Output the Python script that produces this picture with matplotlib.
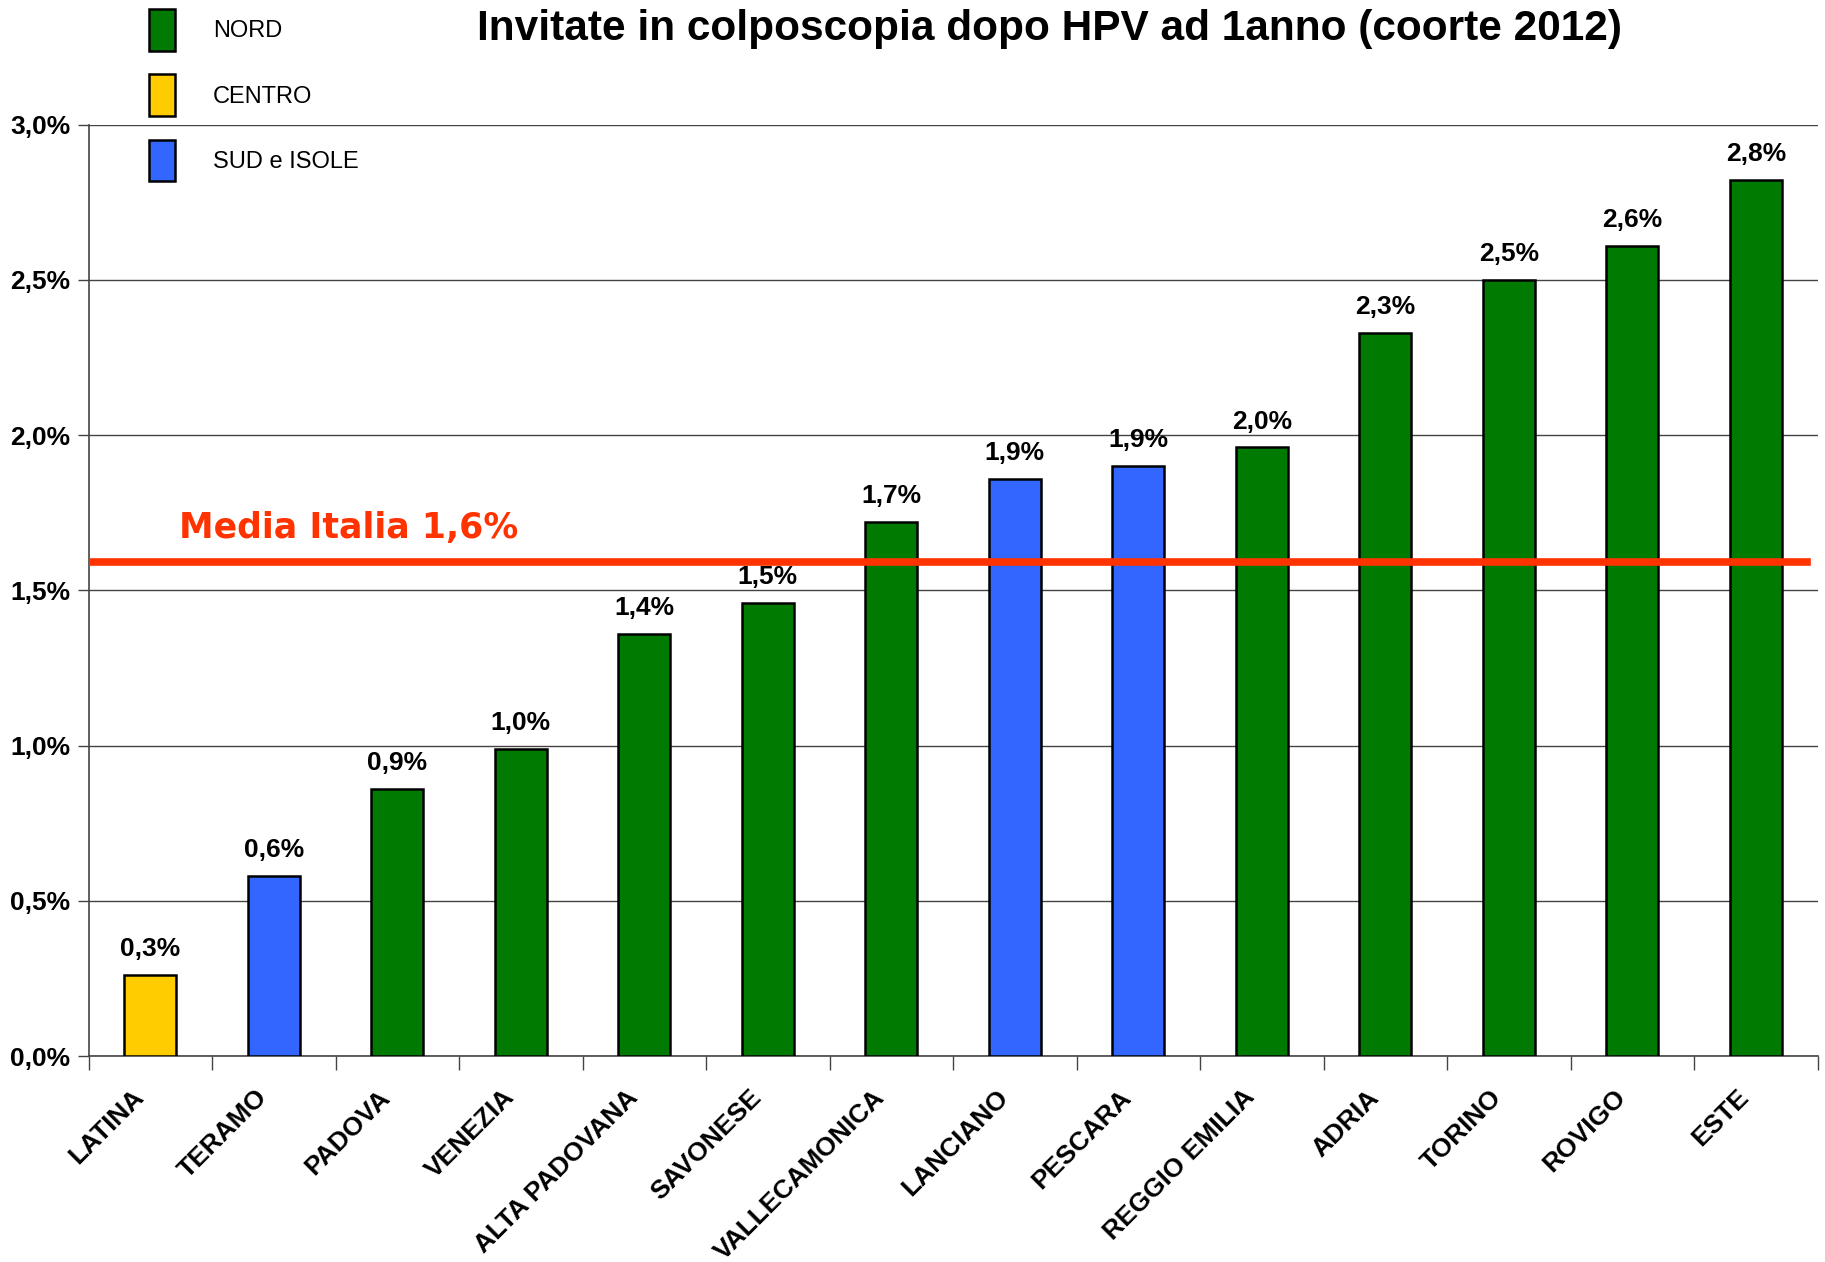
import numpy as np
import matplotlib
matplotlib.use("Agg")
import matplotlib.pyplot as plt
import matplotlib.transforms as mtransforms
from matplotlib.patches import Patch
from matplotlib.ticker import FuncFormatter

plt.rcParams['font.family'] = ['Liberation Sans', 'DejaVu Sans']

# data
programmi = ["LATINA", "TERAMO", "PADOVA", "VENEZIA", "ALTA PADOVANA", "SAVONESE",
             "VALLECAMONICA", "LANCIANO", "PESCARA", "REGGIO EMILIA", "ADRIA",
             "TORINO", "ROVIGO", "ESTE"]
valori = [0.26, 0.58, 0.86, 0.99, 1.36, 1.46, 1.72, 1.86, 1.90, 1.96, 2.33, 2.50, 2.61, 2.82]
area = ["CENTRO", "SUD e ISOLE", "NORD", "NORD", "NORD", "NORD", "NORD",
        "SUD e ISOLE", "SUD e ISOLE", "NORD", "NORD", "NORD", "NORD", "NORD"]
media_italia = 1.59
area_colori = {"NORD": "#007A00", "CENTRO": "#FFCC00", "SUD e ISOLE": "#3366FF"}

fig = plt.figure(figsize=(18.25, 12.62), dpi=100)
ax = fig.add_axes([0.0485, 0.1632, 0.9475, 0.7381])

x = np.arange(len(programmi))
colori = [area_colori[a] for a in area]
ax.bar(x, valori, width=0.42, color=colori, edgecolor="black", linewidth=1.8, zorder=3)

for xi, v in zip(x, valori):
    ax.text(xi, v + 0.045, ("%.1f%%" % v).replace(".", ","), ha="center", va="bottom",
            fontsize=19, fontweight="bold", zorder=4)

ax.axhline(media_italia, xmin=0, xmax=0.994, color="#FF3300", linewidth=5.5, zorder=5)
ax.text(0.23, media_italia + 0.057, "Media Italia 1,6%", color="#FF3300", fontsize=25,
        fontweight="bold", ha="left", va="bottom", family=["DejaVu Sans"], zorder=5)

ax.set_xlim(-0.5, len(programmi) - 0.5)
ax.set_ylim(0, 3.0)
ax.set_yticks(np.arange(0, 3.01, 0.5))
ax.yaxis.set_major_formatter(FuncFormatter(lambda v, p: ("%.1f%%" % v).replace(".", ",")))
ax.grid(axis="y", color="#444444", linewidth=1.0, zorder=0)
ax.set_axisbelow(True)

ax.set_xticks(x)
ax.set_xticklabels(programmi, rotation=45, ha="right", rotation_mode="anchor",
                   fontsize=19, fontweight="bold")
ax.set_xticks(np.arange(-0.5, len(programmi), 1), minor=True)
ax.tick_params(axis="x", which="major", length=0, pad=21)
ax.tick_params(axis="x", which="minor", length=10, width=1.0, color="#444444")
ax.tick_params(axis="y", length=8, width=1.0, color="#444444", pad=5)
for lab in ax.get_yticklabels():
    lab.set_fontsize(19)
    lab.set_fontweight("bold")
shift = mtransforms.ScaledTranslation(-0.19, 0, fig.dpi_scale_trans)
for lab in ax.get_xticklabels():
    lab.set_transform(lab.get_transform() + shift)

for s in ["top", "right"]:
    ax.spines[s].set_visible(False)
for s in ["left", "bottom"]:
    ax.spines[s].set_color("#444444")
    ax.spines[s].set_linewidth(1.2)

handles = [Patch(facecolor=area_colori[k], edgecolor="black", linewidth=1.8, label=k)
           for k in ["NORD", "CENTRO", "SUD e ISOLE"]]
fig.legend(handles=handles, loc="upper left", bbox_to_anchor=(0.0816, 0.9926),
           frameon=False, fontsize=17, handlelength=1.1, handleheight=2.33,
           handletextpad=1.6, labelspacing=1.0, borderaxespad=0, borderpad=0)

fig.text(0.575, 0.977, "Invitate in colposcopia dopo HPV ad 1anno (coorte 2012)",
         ha="center", va="center", fontsize=30.5, fontweight="bold")

fig.savefig("out.png", dpi=100)
